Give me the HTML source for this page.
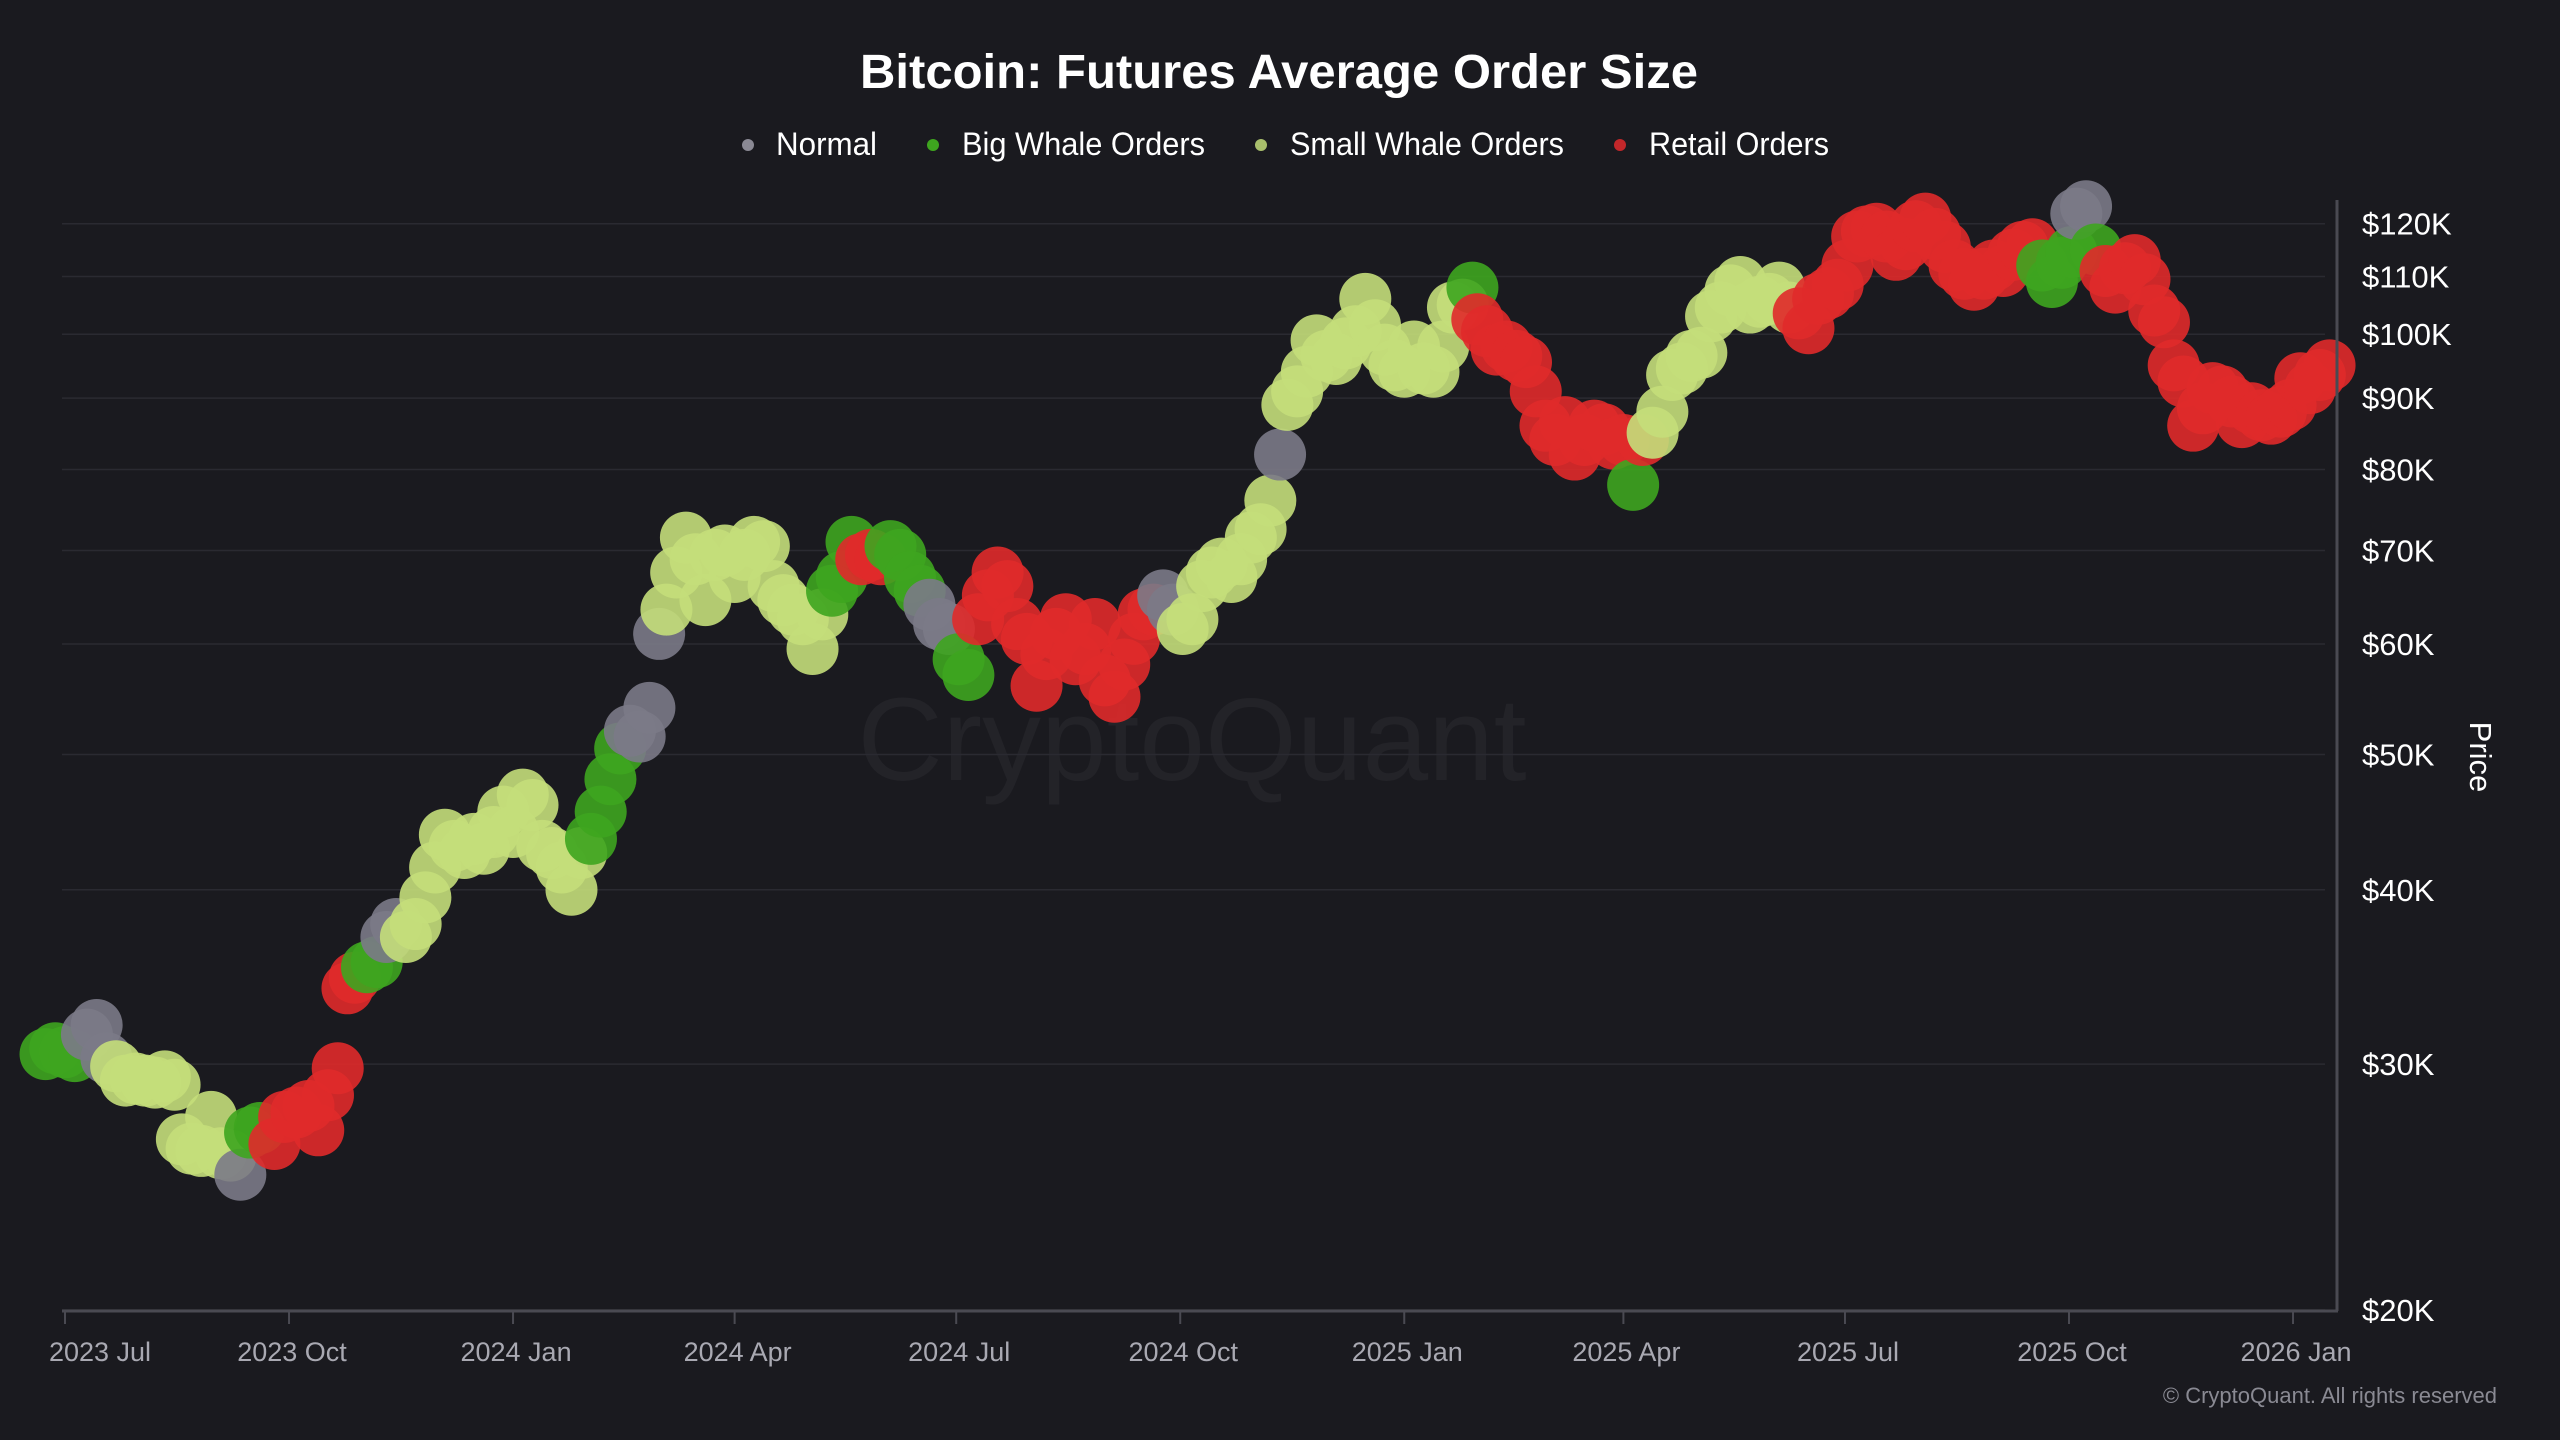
<!DOCTYPE html>
<html><head><meta charset="utf-8"><style>
html,body{margin:0;padding:0;background:#1a1a1f;}
svg{display:block;font-family:"Liberation Sans",sans-serif;}
</style></head><body>
<svg id="chart" width="2560" height="1440" viewBox="0 0 2560 1440" xmlns="http://www.w3.org/2000/svg">
<rect width="2560" height="1440" fill="#1a1a1f"/>
<text x="1279" y="88" text-anchor="middle" fill="#ffffff" font-size="48" font-weight="bold" textLength="838" lengthAdjust="spacingAndGlyphs">Bitcoin: Futures Average Order Size</text>
<g>
<g><circle cx="748" cy="145" r="6" fill="#8a8994"/><text x="776" y="155" fill="#fff" font-size="32" textLength="101" lengthAdjust="spacingAndGlyphs">Normal</text></g>
<g><circle cx="933" cy="145" r="6" fill="#3ea51f"/><text x="962" y="155" fill="#fff" font-size="32" textLength="243" lengthAdjust="spacingAndGlyphs">Big Whale Orders</text></g>
<g><circle cx="1261" cy="145" r="6" fill="#a9bf6c"/><text x="1290" y="155" fill="#fff" font-size="32" textLength="274" lengthAdjust="spacingAndGlyphs">Small Whale Orders</text></g>
<g><circle cx="1620" cy="145" r="6" fill="#c2272a"/><text x="1649" y="155" fill="#fff" font-size="32" textLength="180" lengthAdjust="spacingAndGlyphs">Retail Orders</text></g>
</g>
<text x="1192" y="780" text-anchor="middle" fill="#232328" font-size="118">CryptoQuant</text>
<g id="grid"></g>
<g id="marks"></g>
<g id="axes"></g>
<text x="2497" y="1403" text-anchor="end" fill="#8a8a93" font-size="22">© CryptoQuant. All rights reserved</text>
</svg>
<script>
const yTicks=[20,30,40,50,60,70,80,90,100,110,120];
const xTickLabels=["2023 Jul","2023 Oct","2024 Jan","2024 Apr","2024 Jul","2024 Oct","2025 Jan","2025 Apr","2025 Jul","2025 Oct","2026 Jan"];
const xTickDays=[0,92,184,275,366,458,550,640,731,823,915];
const days=[-8,-4,0,4,9,13,17,21,25,29,33,37,41,45,48,52,56,60,64,68,72,76,80,86,90,95,100,104,108,112,116,119,124,128,132,136,140,144,148,152,156,160,164,168,172,176,180,184,188,192,196,200,204,208,212,216,220,224,228,232,236,240,244,247,251,255,259,263,267,271,275,279,283,287,291,295,299,303,307,311,315,319,323,327,331,335,339,343,347,351,355,359,363,367,371,375,379,383,387,391,395,399,403,407,411,415,419,423,427,431,435,439,443,447,451,455,459,463,467,471,475,479,483,487,491,495,499,502,506,510,514,518,522,526,530,534,538,542,546,550,554,558,562,566,570,574,578,580,584,588,592,596,600,604,608,612,616,620,624,628,632,636,640,644,648,652,656,660,664,668,672,676,680,684,688,692,696,700,704,708,712,716,720,724,728,732,736,740,744,748,752,756,760,764,768,772,776,780,784,788,792,796,800,804,808,812,816,820,824,826,830,834,838,842,846,850,854,858,862,866,870,874,878,882,886,890,894,898,902,906,910,914,918,922,926,930];
const prices=[30.5,30.8,30.6,30.4,31.5,32.0,30.3,29.9,29.2,29.3,29.2,29.1,29.4,29.0,26.5,26.1,26.0,27.5,25.9,25.8,25.0,26.8,27.0,26.3,27.5,27.7,28.0,26.9,28.5,29.8,34.0,34.6,35.2,35.5,37.0,37.8,37.0,37.8,39.5,41.5,43.8,43.0,42.5,43.5,42.8,44.0,45.5,44.0,46.8,46.0,43.0,42.5,41.5,40.0,42.5,43.5,45.5,48.0,50.5,52.0,51.5,54.0,61.0,63.5,67.5,71.5,69.0,64.5,69.5,70.0,67.0,69.5,71.0,70.5,66.0,64.5,63.5,62.5,59.5,63.0,65.5,67.0,71.0,69.0,69.5,69.0,70.5,69.5,67.0,65.5,64.0,62.0,61.5,58.5,57.0,62.5,65.0,67.5,66.0,62.0,60.5,56.0,59.0,61.0,62.5,58.5,59.5,62.0,56.5,55.0,58.0,60.5,63.0,63.5,65.0,63.5,61.5,62.5,66.0,67.5,68.5,67.0,69.0,71.5,72.5,76.0,82.0,89.0,91.0,94.0,99.0,96.5,96.0,98.5,100.5,106.0,101.5,97.5,95.0,94.0,98.0,94.5,94.0,98.0,104.5,105.0,108.0,102.5,100.5,97.5,98.0,96.5,95.5,91.0,86.0,84.0,86.5,82.0,84.0,86.0,85.5,83.5,84.0,78.0,84.0,85.0,88.0,93.5,94.5,96.5,97.0,103.0,104.5,107.5,109.0,104.5,105.5,106.0,108.0,104.5,103.5,101.0,106.0,107.0,108.5,112.0,117.5,118.5,119.0,117.5,114.0,116.0,119.5,121.0,118.0,115.5,112.0,110.5,108.5,110.5,112.0,111.0,114.0,115.5,116.0,112.0,109.0,112.5,114.5,122.0,123.5,115.0,111.0,108.0,111.5,113.0,109.5,104.0,102.0,95.0,92.5,86.0,88.5,91.5,91.0,89.5,86.5,88.5,87.5,87.0,88.0,89.0,93.0,91.5,93.5,95.0];
const cats=[1,1,1,1,0,0,0,2,2,2,2,2,2,2,2,2,2,2,2,2,0,1,1,3,3,3,3,3,3,3,3,3,1,1,0,0,2,2,2,2,2,2,2,2,2,2,2,2,2,2,2,2,2,2,2,1,1,1,1,0,0,0,0,2,2,2,2,2,2,2,2,2,2,2,2,2,2,2,2,2,1,1,1,3,3,3,1,1,1,1,0,0,0,1,1,3,3,3,3,3,3,3,3,3,3,3,3,3,3,3,3,3,3,3,0,0,2,2,2,2,2,2,2,2,2,2,0,2,2,2,2,2,2,2,2,2,2,2,2,2,2,2,2,2,2,2,1,3,3,3,3,3,3,3,3,3,3,3,3,3,3,3,3,1,3,2,2,2,2,2,2,2,2,2,2,2,2,2,2,2,3,3,3,3,3,3,3,3,3,3,3,3,3,3,3,3,3,3,3,3,3,3,3,3,3,1,1,1,1,0,0,1,3,3,3,3,3,3,3,3,3,3,3,3,3,3,3,3,3,3,3,3,3,3,3,3];
const catNames=["normal","big-whale","small-whale","retail"];
const catColors=["#7b7a87","#3ea51f","#c4de7a","#e02a2a"];
const NS="http://www.w3.org/2000/svg";
const x0=65,pxPerDay=2.435,yBase=1310,pxPerDecade=1396;
function xScale(d){return x0+d*pxPerDay;}
function yScale(p){return yBase-Math.log10(p/20)*pxPerDecade;}
const grid=document.getElementById('grid'),axes=document.getElementById('axes'),marks=document.getElementById('marks');
function mk(tag,attrs,parent){const e=document.createElementNS(NS,tag);for(const k in attrs)e.setAttribute(k,attrs[k]);parent.appendChild(e);return e;}
yTicks.forEach(v=>{
  const y=yScale(v);
  const l=mk('line',{x1:62,x2:2325,y1:y,y2:y,stroke:'#2a2a31','stroke-width':1.5},grid);
  
  
  const t=mk('text',{x:2362,y:y+11,fill:'#ffffff','font-size':31},axes);
  t.textContent='$'+v+'K';
  
  
});
const ax=mk('line',{x1:62,x2:2338,y1:1311,y2:1311,stroke:'#4a4a52','stroke-width':3},axes);


const ay=mk('line',{x1:2337,x2:2337,y1:200,y2:1311,stroke:'#4a4a52','stroke-width':3},axes);


const yt=mk('text',{x:2470,y:757,fill:'#ffffff','font-size':31,'text-anchor':'middle',transform:'rotate(90 2470 757)'},axes);
yt.textContent='Price';


xTickLabels.forEach((lab,i)=>{
  const x=xScale(xTickDays[i]);
  const tk=mk('line',{x1:x,x2:x,y1:1311,y2:1324,stroke:'#4a4a52','stroke-width':2},axes);
  
  
  const t=mk('text',{x:x+(i==0?35:3),y:1361,fill:'#a9a9b2','font-size':27,'text-anchor':'middle'},axes);
  t.textContent=lab;
  
  
});
days.forEach((d,i)=>{
  const c=mk('circle',{cx:xScale(d),cy:yScale(prices[i]),r:26,fill:catColors[cats[i]],'fill-opacity':0.9},marks);
  
  
});
</script>
</body></html>
